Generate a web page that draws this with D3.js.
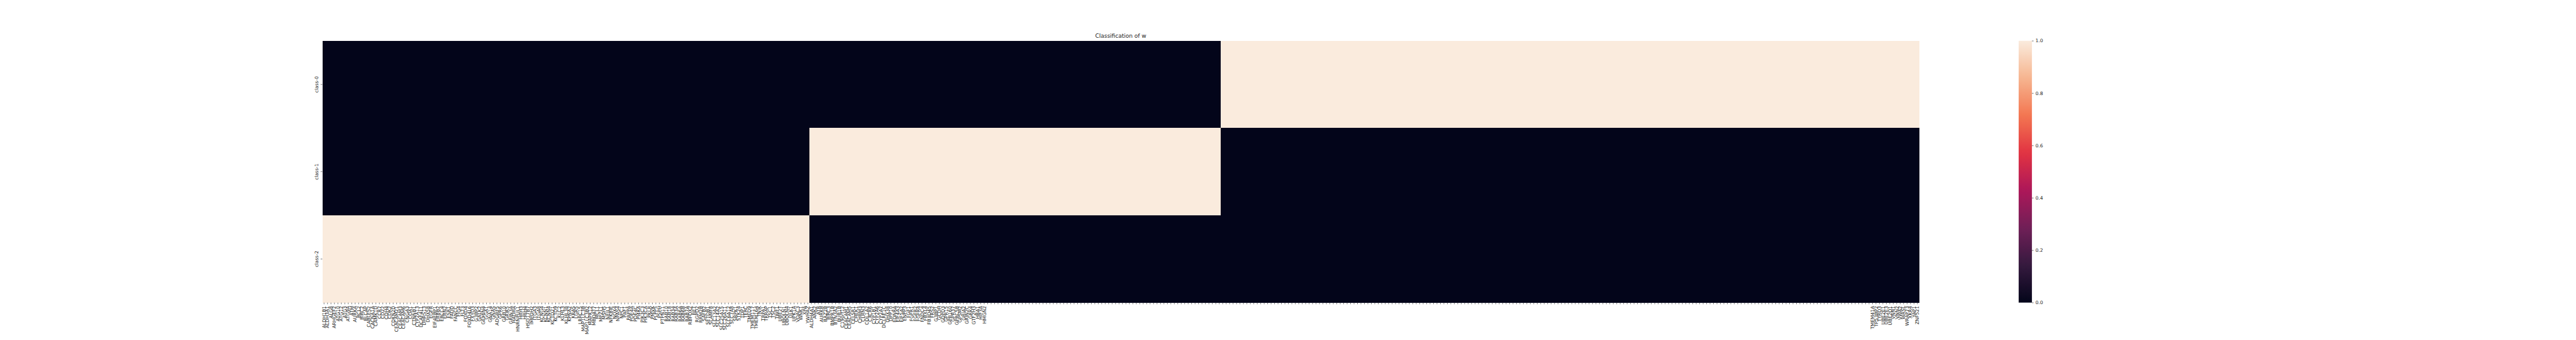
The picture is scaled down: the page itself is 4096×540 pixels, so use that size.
<!DOCTYPE html>
<html><head><meta charset="utf-8">
<script src="https://cdn.jsdelivr.net/npm/d3@7"></script>
<style>html,body{margin:0;padding:0;background:#fff;overflow:hidden}</style>
</head><body>
<svg id="chart" width="4096" height="540" viewBox="0 0 7583 1000"></svg>
<script>
const title = "Classification of w";
const rowLabels = ["class-0", "class-1", "class-2"];
// genes whose membership value is 1 for each class (all others 0), in column order
const class2Genes = ["ALDH1B1","ALDH3A1","ALG8","ARHGEF2","ATG10","ATG12","ATG3","ATG9A","ATM","AURKA","BCL2","BIRC2","BLCAP","CABLES2","CACNA1A","CAMK1D","CCR7","CD22","CDH4","CDK2","CDKN2D","CEACAM21","CEACAM3","CEACAM6","CNGA3","COA1","CTNNB1","CYP2A13","DCAF4L1","DHRS13","DHX58","EGFR","EIF4EBP1","ERBB2","ERCC4","ERN2","ESR1","FADD","FANCC","FIG4","FLT3","FOXD4","FOXD4L6","FXYD3","G3BP2","GALK2","GEMIN4","GGA1",
"GNA14","GNAS","ADGRF5","GPR6","GRB10","GRIK5","GRIN3A","HADHA","HNRNPUL1","HRH3","HRH4","HSD17B7","IMPDH2","ITGA3","ITGA8","KCNG4","KCNN1","KCNN4","KCTD21","KCTD9","KLC2","KLHL3","KLHL38","KPNA2","KRAS","LGR5","LRRC15","MAP1LC3B","MAP1LC3B2","MAPK12","MBOAT7","MCL1","MPZL1","MSH5","NEIL1","NFKBIE","NOX4","NPAS4","NPC1","PAF1","PAPPA","PDE4A","PDE4C","PI4KA","PIK3C3","PIK3CA","PKLR",
"PMVK","PLPP5","PSPH","PTPN11","RAB10","RAB18","RAB34","RAB3A","RAB6A","RAB6B","RAB7A","RBFOX2","RET","RGPD2","RRM2B","SAFB2","SETDB1","SLAMF8","SLC13A2","SLC14A2","SLC25A15","SLC26A11","SLC6A12","SLC7A8","SRPK1","STK24","TDP1","TERC","TMED9","TMEM117","TMEM164","TNIK","TRPA1","TRRAP","TSC1","TSC2","TWF1","UBE2T","UBQLN1","UBQLN4","ULK1","UPK1A","VDAC3","WNK1","XPA","YWHAZ"];
const class1Genes = ["ALDH4A1","ANK2","ATR","AURKB","BAZ2B","BIRC3","BMPR1B","BTN3A2","BUB1B","C19orf12","CEACAM1","CEACAM5","CELSR1","CHEK1","CHRM3","CLRN3","COL1A2","CXCR6","CYP1B1","CYP2A6","CYP2A7","DCLRE1C","DHX38","DPP10","EDNRA","EIF4A3","EIF5A2","ENPP3","FGF1","FGFR1","FGFR2","FGFR4","FNDC4","FBXL4","FBXO45","FRS2","G3BP1","GCDH","GDPD3","GPR15","GPR160","GPR37","GPRC5B","GPSM2","GRIA2","GRIN2C","GRK4","GTF2H3","HBA1","HIF3A","HMGN2"].concat(d3.range(68).map(i => "c1_" + i));
const class0Genes = d3.range(188).map(i => "c0_" + i).concat(["TMEM41A","TP53BP2","TYRO3","UBE2E1","UBE2E3","UBE2Q1","VNN1","VNN2","VWA2","WASL","WRAP73","XKR4","YAP1","ZNF521"]);
const colorbarTicks = [0.0, 0.2, 0.4, 0.6, 0.8, 1.0];
const rocketColors = ["#03051A","#35193E","#701F57","#AD1759","#E13342","#F37651","#F6B48F","#FAEBDD"];

const genes = class2Genes.concat(class1Genes, class0Genes);
const members = {"class-0": new Set(class0Genes), "class-1": new Set(class1Genes), "class-2": new Set(class2Genes)};
const cells = [];
rowLabels.forEach(r => genes.forEach((g, i) => cells.push({row: r, col: i, value: members[r].has(g) ? 1 : 0})));

const svg = d3.select("#chart");
const font = "DejaVu Sans, sans-serif";
const ink = "#222";
const x = d3.scaleBand().domain(d3.range(genes.length)).range([948, 5650]).padding(0);
const y = d3.scaleBand().domain(rowLabels).range([120, 890]).padding(0);
const rocket = d3.piecewise(d3.interpolateRgb, rocketColors);
const color = d3.scaleSequential(rocket).domain([0, 1]);

svg.append("g").attr("shape-rendering", "crispEdges")
  .selectAll("rect").data(cells).join("rect")
  .attr("x", d => x(d.col)).attr("y", d => y(d.row))
  .attr("width", x.bandwidth() + 0.6).attr("height", y.bandwidth() + 0.6)
  .attr("fill", d => color(d.value));

// x axis
const gx = svg.append("g").attr("transform", "translate(0,890)")
  .call(d3.axisBottom(x).tickSize(4.9).tickPadding(0).tickFormat(i => genes[i].startsWith("c0_") || genes[i].startsWith("c1_") ? "" : genes[i]));
gx.select(".domain").remove();
gx.selectAll("line").attr("stroke", ink).attr("stroke-width", 1.1);
gx.selectAll("text").attr("font-family", font).attr("font-size", 13.9).attr("fill", ink)
  .attr("text-anchor", "end").attr("dy", "0.35em")
  .attr("transform", "translate(0,9.8) rotate(-90)").attr("y", 0).attr("x", 0);

// y axis
const gy = svg.append("g").attr("transform", "translate(948,0)")
  .call(d3.axisLeft(y).tickSize(4.9).tickPadding(0));
gy.select(".domain").remove();
gy.selectAll("line").attr("stroke", ink).attr("stroke-width", 1.1);
gy.selectAll("text").attr("font-family", font).attr("font-size", 13.9).attr("fill", ink)
  .attr("text-anchor", "middle").attr("dy", 0).attr("x", 0)
  .attr("transform", "translate(-12,0) rotate(-90)");

// title
svg.append("text").attr("x", (948 + 5650) / 2).attr("y", 112)
  .attr("text-anchor", "middle").attr("font-family", font).attr("font-size", 16.7).attr("fill", ink)
  .text(title);

// colorbar
const defs = svg.append("defs");
const grad = defs.append("linearGradient").attr("id", "cbar").attr("x1", 0).attr("y1", 1).attr("x2", 0).attr("y2", 0);
grad.selectAll("stop").data(d3.range(0, 1.0001, 0.02)).join("stop")
  .attr("offset", d => d).attr("stop-color", d => color(d));
const cy = d3.scaleLinear().domain([0, 1]).range([890, 120]);
svg.append("rect").attr("x", 5943).attr("y", 120).attr("width", 39).attr("height", 770).attr("fill", "url(#cbar)");
const gc = svg.append("g").attr("transform", "translate(5982,0)")
  .call(d3.axisRight(cy).tickValues(colorbarTicks).tickFormat(d3.format(".1f")).tickSize(4.9).tickPadding(5.5));
gc.select(".domain").remove();
gc.selectAll("line").attr("stroke", ink).attr("stroke-width", 1.1);
gc.selectAll("text").attr("font-family", font).attr("font-size", 13.9).attr("fill", ink);
</script>
</body></html>
